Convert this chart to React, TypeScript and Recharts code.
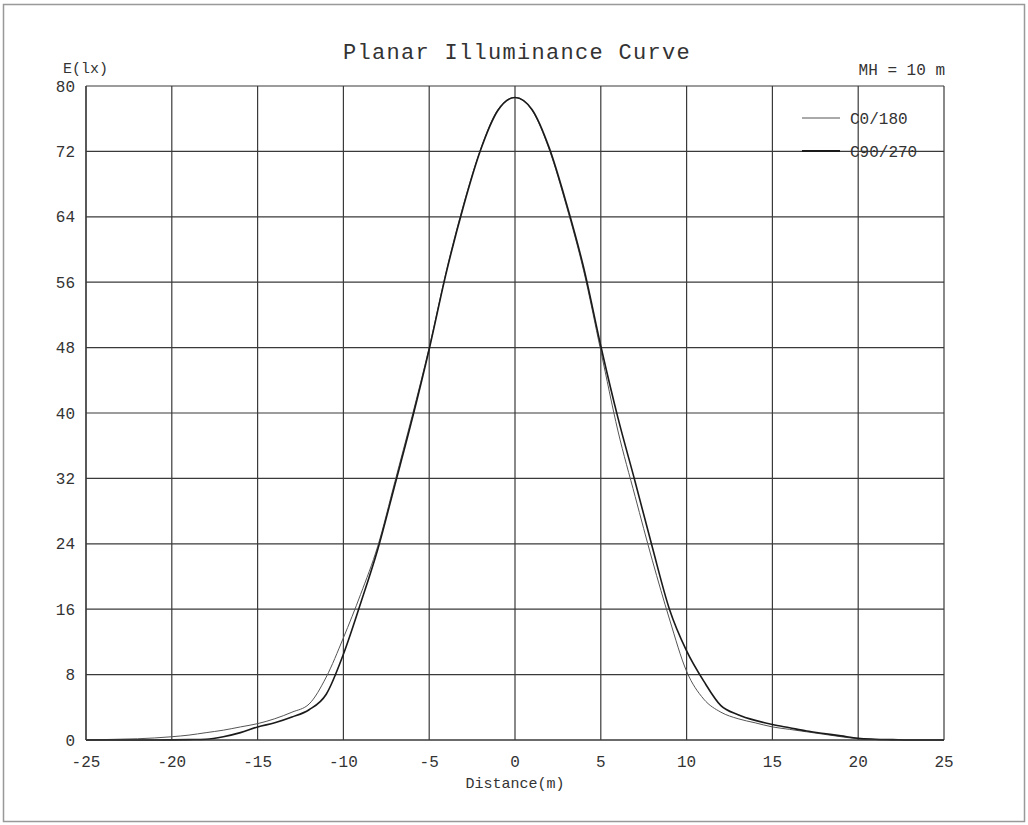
import React from 'react';
import { LineChart, Line, XAxis, YAxis, CartesianGrid } from 'recharts';

const distances = [
  -25, -24, -23, -22, -21, -20, -19, -18, -17, -16, -15, -14, -13, -12, -11, -10, -9, -8, -7, -6, -5, -4, -3, -2, -1,
  0, 1, 2, 3, 4, 5, 6, 7, 8, 9, 10, 11, 12, 13, 14, 15, 16, 17, 18, 19, 20, 21, 22, 23, 24, 25,
];

const c0_180 = [
  0, 0.05, 0.1, 0.15, 0.25, 0.4, 0.6, 0.9, 1.2, 1.6, 2.0, 2.6, 3.4, 4.4, 7.7, 12.5, 17.8, 23.7, 31.6, 39.6, 48, 57.4, 65.5, 72.3, 77.1,
  78.6, 77.0, 72.2, 65.3, 57.4, 47.6, 37.8, 29.8, 22.0, 14.8, 8.4, 5.0, 3.4, 2.6, 2.1, 1.6, 1.3, 1.0, 0.7, 0.4, 0.15, 0.05, 0, 0, 0, 0,
];

const c90_270 = [
  0, 0, 0, 0, 0, 0.02, 0.05, 0.1, 0.4, 0.9, 1.6, 2.1, 2.8, 3.7, 5.6, 10.5, 16.7, 23.3, 31.2, 39.2, 47.8, 57.2, 65.3, 72.2, 77.0,
  78.6, 77.1, 72.4, 65.6, 57.8, 48.2, 39.4, 31.6, 23.6, 16.0, 10.9, 7.2, 4.2, 3.1, 2.4, 1.9, 1.5, 1.1, 0.8, 0.5, 0.2, 0.1, 0.05, 0, 0, 0,
];

const xTicks = [-25, -20, -15, -10, -5, 0, 5, 10, 15, 20, 25];
const yTicks = [0, 8, 16, 24, 32, 40, 48, 56, 64, 72, 80];

const seriesNames = ['C0/180', 'C90/270'];

const data = distances.map((x, i) => ({ x, c0: c0_180[i], c90: c90_270[i] }));

const FONT = '"Liberation Mono", "DejaVu Sans Mono", monospace';
const TEXT = '#333';

export default function App() {
  return (
    <div style={{ position: 'relative', width: 1028, height: 825, background: '#fff' }}>
      <style>{`body{margin:0;}`}</style>
      <LineChart
        width={1028}
        height={825}
        data={data}
        margin={{ top: 86, right: 84, bottom: 55, left: 46 }}
      >
        <CartesianGrid stroke="#3a3a3a" strokeWidth={1.2} />
        <XAxis
          type="number"
          dataKey="x"
          domain={[-25, 25]}
          ticks={xTicks}
          interval={0}
          height={30}
          tickLine={false}
          tickMargin={10}
          axisLine={{ stroke: '#3a3a3a', strokeWidth: 1.2 }}
          tick={{ fontFamily: FONT, fontSize: 16, fill: TEXT }}
        />
        <YAxis
          type="number"
          domain={[0, 80]}
          ticks={yTicks}
          interval={0}
          width={40}
          tickLine={false}
          tickMargin={5}
          axisLine={{ stroke: '#3a3a3a', strokeWidth: 1.2 }}
          tick={{ fontFamily: FONT, fontSize: 16, fill: TEXT }}
        />
        <Line
          type="monotone"
          dataKey="c0"
          name={seriesNames[0]}
          stroke="#555"
          strokeWidth={1}
          dot={false}
          isAnimationActive={false}
        />
        <Line
          type="monotone"
          dataKey="c90"
          name={seriesNames[1]}
          stroke="#1a1a1a"
          strokeWidth={1.6}
          dot={false}
          isAnimationActive={false}
        />
      </LineChart>
      <svg
        width={1028}
        height={825}
        style={{ position: 'absolute', left: 0, top: 0, pointerEvents: 'none' }}
      >
        <rect x={3.5} y={4.5} width={1021} height={817} fill="none" stroke="#999" strokeWidth={1.5} />
        <text x={517} y={59} textAnchor="middle" fontFamily={FONT} fontSize={22} letterSpacing={1.3} fill={TEXT}>
          Planar Illuminance Curve
        </text>
        <text x={63} y={73} fontFamily={FONT} fontSize={15} fill={TEXT}>E(lx)</text>
        <text x={945} y={75} textAnchor="end" fontFamily={FONT} fontSize={16} fill={TEXT}>MH = 10 m</text>
        <text x={515} y={788} textAnchor="middle" fontFamily={FONT} fontSize={15} fill={TEXT}>Distance(m)</text>
        <g>
          <line x1={802} y1={118} x2={840} y2={118} stroke="#555" strokeWidth={1} />
          <text x={850} y={118} dy="0.35em" fontFamily={FONT} fontSize={16} fill={TEXT}>{seriesNames[0]}</text>
          <line x1={802} y1={151} x2={840} y2={151} stroke="#1a1a1a" strokeWidth={2} />
          <text x={850} y={151} dy="0.35em" fontFamily={FONT} fontSize={16} fill={TEXT}>{seriesNames[1]}</text>
        </g>
      </svg>
    </div>
  );
}
